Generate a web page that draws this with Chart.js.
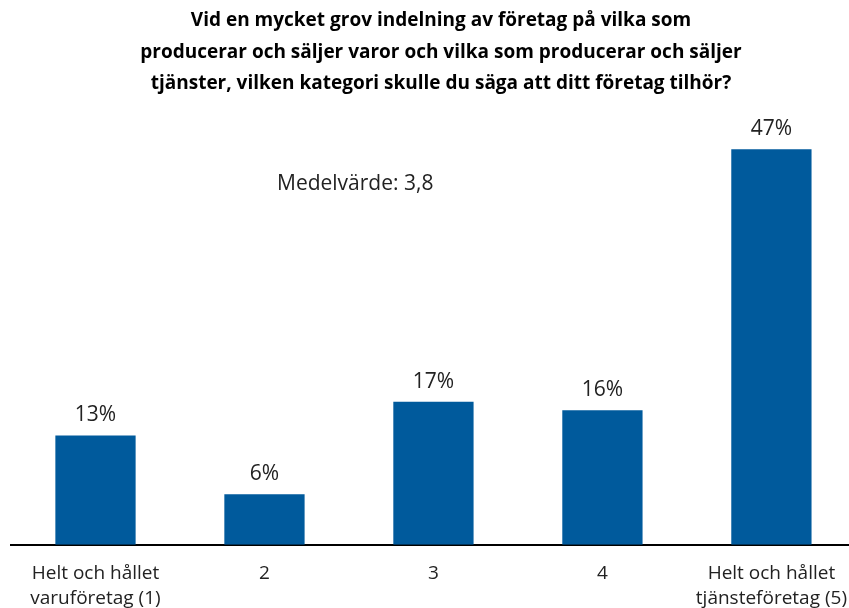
<!DOCTYPE html>
<html>
<head>
<meta charset="utf-8">
<script src="https://cdn.jsdelivr.net/npm/chart.js@4.4.0/dist/chart.umd.min.js"></script>
<style>
  html, body { margin: 0; padding: 0; background: #fff; overflow: hidden; }
  #wrap { width: 863px; height: 627px; }
</style>
</head>
<body>
<div id="wrap"><canvas id="chart" width="863" height="627"></canvas></div>
<script>
'use strict';

const categories = [["Helt och hållet", "varuföretag (1)"], "2", "3", "4", ["Helt och hållet", "tjänsteföretag (5)"]];
const values = [13, 6, 17, 16, 47];
const titleLines = [
  "Vid en mycket grov indelning av företag på vilka som",
  "producerar och säljer varor och vilka som producerar och säljer",
  "tjänster, vilken kategori skulle du säga att ditt företag tilhör?"
];
const note = "Medelvärde: 3,8";

const FONT = "'Open Sans', 'Noto Sans', sans-serif";

// title, note and value labels
const extras = {
  id: 'extras',
  afterDatasetsDraw(chart) {
    const ctx = chart.ctx;
    ctx.save();
    ctx.fillStyle = '#000';
    ctx.textAlign = 'center';
    ctx.textBaseline = 'middle';
    ctx.font = "bold 19px " + FONT;
    titleLines.forEach((t, i) => ctx.fillText(t, 441, 21 + i * 31.5));

    ctx.fillStyle = '#222';
    ctx.font = "21px " + FONT;
    ctx.textAlign = 'left';
    ctx.fillText(note, 277, 184);

    ctx.textAlign = 'center';
    const meta = chart.getDatasetMeta(0);
    meta.data.forEach((bar, i) => {
      ctx.fillText(values[i] + '%', bar.x, bar.y - 20);
    });
    ctx.restore();
  }
};

new Chart(document.getElementById('chart'), {
  type: 'bar',
  data: {
    labels: categories,
    datasets: [{
      data: values,
      backgroundColor: '#005a9c',
      barPercentage: 0.475,
      categoryPercentage: 1
    }]
  },
  options: {
    responsive: false,
    animation: false,
    layout: { padding: { top: 124, left: 11, right: 0, bottom: 0 } },
    plugins: {
      legend: { display: false },
      tooltip: { enabled: false }
    },
    scales: {
      x: {
        grid: { display: false, drawTicks: false },
        border: { display: true, color: '#000', width: 2 },
        ticks: {
          color: '#222',
          padding: 16,
          maxRotation: 0,
          autoSkip: false,
          font: { family: FONT, size: 19, lineHeight: 1.32 }
        }
      },
      y: {
        display: false,
        min: 0,
        max: 50
      }
    }
  },
  plugins: [extras]
});
</script>
</body>
</html>
